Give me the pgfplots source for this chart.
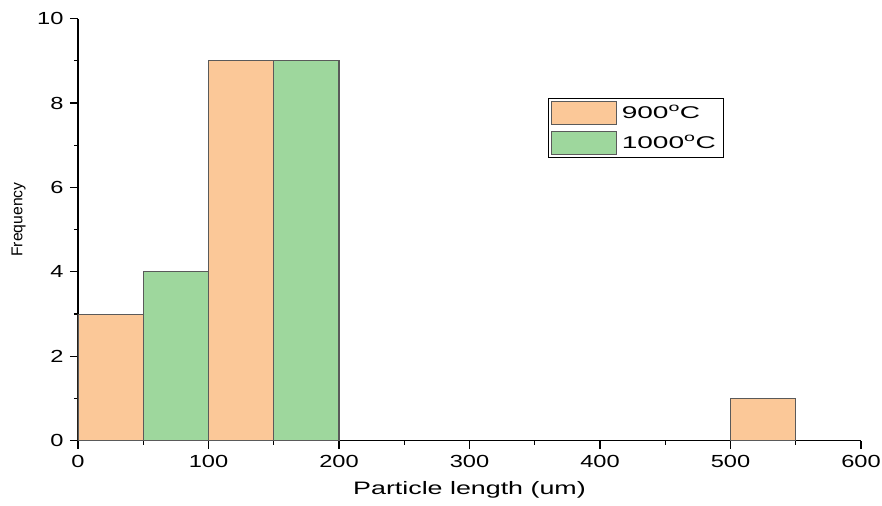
\documentclass[border=0pt]{standalone}
\usepackage{fontspec}
\setmainfont[FakeStretch=1.35]{Liberation Sans}
\newfontfamily\plainsans{Liberation Sans}
\newfontfamily\xlabfont[FakeStretch=1.49]{Liberation Sans}
\newfontfamily\legfont[FakeStretch=1.65]{Liberation Sans}
\usepackage{pgfplots}
\pgfplotsset{compat=1.18}
\definecolor{barorange}{HTML}{FBC898}
\definecolor{bargreen}{HTML}{9ED79D}
\definecolor{baredge}{HTML}{5A5A5A}
\begin{document}
\begin{tikzpicture}
\begin{axis}[
  scale only axis,
  width=783pt, height=422pt,
  xmin=0, xmax=600, ymin=0, ymax=10,
  axis x line*=bottom, axis y line*=left,
  axis line style={line width=1.4pt, black},
  xtick={0,100,...,600}, ytick={0,2,...,10},
  minor x tick num=1, minor y tick num=1,
  tick align=outside,
  major tick length=8pt, minor tick length=4pt,
  tick style={line width=1.2pt, black},
  /pgf/number format/assume math mode=true,
  ticklabel style={font=\fontsize{17.5}{19}\selectfont},
  xticklabel style={yshift=-3pt},
  yticklabel style={xshift=-3pt},
  xlabel={Particle length (um)},
  ylabel={Frequency},
  xlabel style={font=\xlabfont\fontsize{18}{20}\selectfont, at={(rel axis cs:0.5,0)}, anchor=base, yshift=-54pt},
  ylabel style={font=\plainsans\fontsize{15.7}{17}\selectfont, at={(rel axis cs:0,0.524)}, anchor=center, yshift=59.5pt},
  legend style={at={(rel axis cs:0.6,0.813)}, anchor=north west, draw=black, line width=0.9pt,
    font=\legfont\fontsize{17}{19}\selectfont, inner xsep=3pt, inner ysep=2.5pt, row sep=6pt,
    nodes={inner xsep=4.5pt}, cells={anchor=west}},
  legend cell align=left,
]
\addplot[ybar, bar width=50, bar shift=0pt, fill=barorange, draw=baredge, line width=1.1pt,
  legend image code/.code={\draw[fill=barorange, draw=baredge, line width=1pt] (0pt,-11.5pt) rectangle (65pt,11.5pt);}]
  coordinates {(25,3) (125,9) (525,1)};
\addlegendentry{900\textsuperscript{o}C}
\addplot[ybar, bar width=50, bar shift=0pt, fill=bargreen, draw=baredge, line width=1.1pt,
  legend image code/.code={\draw[fill=bargreen, draw=baredge, line width=1pt] (0pt,-11.5pt) rectangle (65pt,11.5pt);}]
  coordinates {(75,4) (175,9)};
\addlegendentry{1000\textsuperscript{o}C}
\end{axis}
\pgfresetboundingbox
\path[use as bounding box] (-78pt,-65pt) rectangle (804pt,440.7pt);
\end{tikzpicture}
\end{document}
